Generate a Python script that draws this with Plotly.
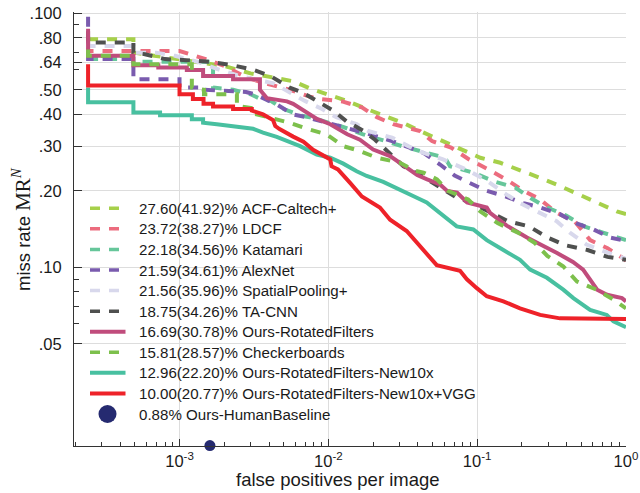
import plotly.graph_objects as go

# ---------------- data (fppi, miss rate) ----------------
acf_fppi = [2.43e-4, 4.9e-4, 4.9e-4, 1.0e-3, 2.0e-3, 3.0e-3, 4.27e-3, 5.82e-3, 7.53e-3, 1.03e-2, 1.33e-2, 1.81e-2,
            2.34e-2, 3.19e-2, 4.13e-2, 5.63e-2, 7.3e-2, 0.105, 0.143, 0.194, 0.265, 0.36, 0.491, 0.637, 0.867, 1.0]
acf_mr = [0.79, 0.79, 0.70, 0.66, 0.62, 0.58, 0.559, 0.54, 0.506, 0.476, 0.452, 0.42,
          0.395, 0.37, 0.344, 0.318, 0.296, 0.27, 0.258, 0.2415, 0.225, 0.209, 0.193, 0.179, 0.166, 0.162]

ldcf_fppi = [2.43e-4, 2.43e-4, 1.0e-3, 1.5e-3, 2.0e-3, 2.8e-3, 3.64e-3, 5.5e-3, 7.5e-3, 9.07e-3, 1.24e-2, 1.68e-2,
             2.12e-2, 2.73e-2, 4.13e-2, 4.97e-2, 6.68e-2, 8.83e-2, 0.117, 0.156, 0.206, 0.265, 0.342, 0.455,
             0.574, 0.752, 0.97, 1.0]
ldcf_mr = [0.74, 0.71, 0.71, 0.66, 0.62, 0.56, 0.533, 0.50, 0.47, 0.459, 0.45, 0.426,
           0.39, 0.366, 0.344, 0.314, 0.296, 0.266, 0.244, 0.222, 0.2, 0.185, 0.164, 0.151,
           0.128, 0.119, 0.108, 0.106]

kat_fppi = [2.43e-4, 4.9e-4, 4.9e-4, 1.68e-3, 1.68e-3, 2.29e-3, 3.0e-3, 3.5e-3, 4.1e-3, 5.0e-3, 6.6e-3, 7.5e-3,
            1.24e-2, 1.71e-2, 3.13e-2, 6.08e-2, 6.57e-2, 9.42e-2, 0.13, 0.18, 0.23, 0.296, 0.396, 0.523, 0.7, 1.0]
kat_mr = [0.66, 0.66, 0.645, 0.645, 0.51, 0.50, 0.48, 0.46, 0.452, 0.42, 0.395, 0.39,
          0.358, 0.334, 0.30, 0.27, 0.25, 0.236, 0.218, 0.206, 0.187, 0.172, 0.16, 0.145, 0.137, 0.128]

alex_fppi = [2.43e-4, 2.43e-4, 4.9e-4, 4.9e-4, 1.0e-3, 1.0e-3, 1.44e-3, 1.44e-3, 2.8e-3, 3.2e-3, 4.49e-3, 5.8e-3,
             7.13e-3, 1.08e-2, 1.44e-2, 1.9e-2, 2.68e-2, 4.36e-2, 5.63e-2, 7.05e-2, 8.9e-2, 0.116, 0.156, 0.205,
             0.267, 0.36, 0.466, 0.605, 0.782, 1.0]
alex_mr = [0.97, 0.66, 0.66, 0.55, 0.55, 0.51, 0.51, 0.50, 0.49, 0.48, 0.438, 0.40,
           0.39, 0.366, 0.35, 0.334, 0.314, 0.282, 0.254, 0.23, 0.215, 0.2, 0.19, 0.179,
           0.172, 0.162, 0.149, 0.141, 0.131, 0.127]

sp_fppi = [2.43e-4, 2.43e-4, 4.9e-4, 4.9e-4, 6.95e-4, 9.33e-4, 1.37e-3, 1.84e-3, 2.51e-3, 4.28e-3, 6.96e-3, 9.07e-3,
           1.13e-2, 1.55e-2, 1.85e-2, 2.68e-2, 3.44e-2, 4.36e-2, 5.9e-2, 8.7e-2, 0.118, 0.15, 0.194, 0.265,
           0.342, 0.42, 0.543, 0.7, 1.0]
sp_mr = [0.76, 0.743, 0.743, 0.70, 0.70, 0.68, 0.64, 0.60, 0.567, 0.53, 0.452, 0.42,
         0.39, 0.366, 0.344, 0.324, 0.30, 0.282, 0.266, 0.241, 0.218, 0.197, 0.179, 0.163,
         0.152, 0.137, 0.123, 0.116, 0.108]

ta_fppi = [2.43e-4, 2.43e-4, 4.9e-4, 4.9e-4, 5.86e-4, 8.0e-4, 1.11e-3, 1.58e-3, 2.25e-3, 3.1e-3, 4.06e-3, 5.0e-3,
           5.5e-3, 6.6e-3, 8.34e-3, 1.08e-2, 1.32e-2, 1.73e-2, 2.06e-2, 2.6e-2, 3.2e-2, 4.13e-2, 7.1e-2, 9.2e-2,
           0.161, 0.223, 0.297, 0.396, 0.552, 0.752, 1.0]
ta_mr = [0.85, 0.767, 0.767, 0.70, 0.69, 0.66, 0.654, 0.645, 0.625, 0.60, 0.567, 0.53,
         0.51, 0.49, 0.452, 0.414, 0.376, 0.344, 0.318, 0.28, 0.25, 0.231, 0.19, 0.179,
         0.152, 0.145, 0.131, 0.122, 0.117, 0.11, 0.107]

rf_fppi = [2.43e-4, 2.43e-4, 4.9e-4, 4.9e-4, 7.2e-4, 7.2e-4, 1.12e-3, 1.12e-3, 1.44e-3, 1.44e-3, 2.29e-3, 2.29e-3,
           3.47e-3, 3.47e-3, 3.87e-3, 5.27e-3, 5.8e-3, 6.76e-3, 8.39e-3, 1.03e-2, 1.34e-2, 1.63e-2, 2.0e-2,
           2.6e-2, 3.38e-2, 3.95e-2, 4.61e-2, 5.63e-2, 6.29e-2, 7.33e-2, 8.55e-2, 0.116, 0.122, 0.158, 0.216,
           0.277, 0.344, 0.44, 0.515, 0.64, 0.746, 0.94, 1.0]
rf_mr = [0.87, 0.68, 0.68, 0.625, 0.625, 0.612, 0.612, 0.598, 0.598, 0.567, 0.567, 0.55,
         0.55, 0.50, 0.463, 0.45, 0.44, 0.414, 0.384, 0.366, 0.334, 0.318, 0.291,
         0.274, 0.245, 0.231, 0.222, 0.212, 0.2, 0.197, 0.18, 0.172, 0.164, 0.146, 0.131,
         0.122, 0.114, 0.105, 0.098, 0.0817, 0.078, 0.0757, 0.0735]

chk_fppi = [2.43e-4, 2.43e-4, 4.9e-4, 4.9e-4, 1.21e-3, 1.21e-3, 1.46e-3, 1.46e-3, 2.43e-3, 2.43e-3, 3.31e-3, 3.31e-3,
            5.56e-3, 7.3e-3, 9.72e-3, 1.26e-2, 1.63e-2, 2.12e-2, 3.03e-2, 3.83e-2, 4.36e-2, 5.37e-2, 6.37e-2,
            8.7e-2, 0.105, 0.138, 0.188, 0.243, 0.296, 0.378, 0.469, 0.634, 0.826, 1.0]
chk_mr = [0.72, 0.68, 0.68, 0.63, 0.63, 0.51, 0.50, 0.48, 0.48, 0.432, 0.42, 0.40,
          0.37, 0.35, 0.334, 0.30, 0.287, 0.27, 0.258, 0.24, 0.236, 0.222, 0.2,
          0.185, 0.166, 0.149, 0.137, 0.125, 0.111, 0.101, 0.088, 0.0817, 0.0746, 0.069]

n10_fppi = [2.43e-4, 2.43e-4, 4.9e-4, 4.9e-4, 7.4e-4, 7.4e-4, 1.21e-3, 1.21e-3, 1.44e-3, 1.44e-3, 1.78e-3, 2.29e-3,
            3.12e-3, 3.64e-3, 4.5e-3, 6.46e-3, 8.36e-3, 1.03e-2, 1.26e-2, 1.55e-2, 1.81e-2, 2.34e-2, 3.19e-2,
            3.93e-2, 4.58e-2, 5.63e-2, 7.29e-2, 9.42e-2, 0.116, 0.15, 0.194, 0.227, 0.294, 0.379, 0.443,
            0.574, 0.743, 0.823, 1.0]
n10_mr = [0.51, 0.447, 0.447, 0.407, 0.407, 0.397, 0.397, 0.383, 0.383, 0.371, 0.366, 0.359,
          0.351, 0.339, 0.326, 0.30, 0.278, 0.27, 0.256, 0.239, 0.229, 0.217, 0.2,
          0.188, 0.18, 0.164, 0.145, 0.141, 0.128, 0.117, 0.107, 0.098, 0.091, 0.0817, 0.0757,
          0.068, 0.065, 0.0613, 0.0582]

vgg_fppi = [2.43e-4, 2.43e-4, 1.0e-3, 1.0e-3, 1.23e-3, 1.23e-3, 1.45e-3, 1.45e-3, 1.68e-3, 1.68e-3, 2.29e-3, 2.29e-3,
            3.06e-3, 3.06e-3, 3.64e-3, 3.93e-3, 4.25e-3, 4.4e-3, 4.7e-3, 5.8e-3, 6.8e-3, 7.9e-3, 9.1e-3,
            1.03e-2, 1.05e-2, 1.16e-2, 1.40e-2, 1.68e-2, 2.22e-2, 2.6e-2, 3.36e-2, 3.93e-2, 4.82e-2, 5.35e-2,
            7.67e-2, 8.5e-2, 9.9e-2, 0.116, 0.15, 0.194, 0.265, 0.36, 1.0]
vgg_mr = [0.63, 0.52, 0.52, 0.48, 0.48, 0.46, 0.46, 0.44, 0.44, 0.43, 0.43, 0.42,
          0.42, 0.414, 0.40, 0.39, 0.38, 0.36, 0.35, 0.327, 0.312, 0.29, 0.278,
          0.266, 0.25, 0.243, 0.215, 0.19, 0.172, 0.154, 0.139, 0.125, 0.11, 0.102,
          0.097, 0.09, 0.083, 0.077, 0.0735, 0.069, 0.065, 0.063, 0.0627]

human_fppi = [1.6e-3]
human_mr_shown = [0.0199]   # drawn on the bottom axis (0.88% lies below the plotted range)

names = ["27.60(41.92)% ACF-Caltech+", "23.72(38.27)% LDCF", "22.18(34.56)% Katamari",
         "21.59(34.61)% AlexNet", "21.56(35.96)% SpatialPooling+", "18.75(34.26)% TA-CNN",
         "16.69(30.78)% Ours-RotatedFilters", "15.81(28.57)% Checkerboards",
         "12.96(22.20)% Ours-RotatedFilters-New10x", "10.00(20.77)% Ours-RotatedFilters-New10x+VGG"]
human_name = "0.88% Ours-HumanBaseline"

y_tickvals = [0.05, 0.1, 0.2, 0.3, 0.4, 0.5, 0.64, 0.8, 1.0]
y_ticktext = [".05", ".10", ".20", ".30", ".40", ".50", ".64", ".80", ".100"]
y_minor = [0.06, 0.07, 0.08, 0.09, 0.6, 0.7, 0.9]
x_tickvals = [1e-3, 1e-2, 1e-1, 1]
x_ticktext = ["10<sup>-3</sup>", "10<sup>-2</sup>", "10<sup>-1</sup>", "10<sup>0</sup>"]
x_minor = [m * 10 ** e for e in (-4, -3, -2, -1) for m in range(2, 10)]

# ---------------- styling ----------------
DASH = "10px,9px"
series = [
    (acf_fppi, acf_mr, "#a6d04a", DASH),
    (ldcf_fppi, ldcf_mr, "#ec6c7e", DASH),
    (kat_fppi, kat_mr, "#66c69a", DASH),
    (alex_fppi, alex_mr, "#7a5bae", DASH),
    (sp_fppi, sp_mr, "#d8d8ec", DASH),
    (ta_fppi, ta_mr, "#4f504f", DASH),
    (rf_fppi, rf_mr, "#c04c7c", "solid"),
    (chk_fppi, chk_mr, "#7dc04c", DASH),
    (n10_fppi, n10_mr, "#48c0a0", "solid"),
    (vgg_fppi, vgg_mr, "#ee2229", "solid"),
]
HUMAN_COLOR = "#252a70"

W, H = 640, 493
ML, MR, MT, MB = 74, 14, 12, 47
PW, PH = W - ML - MR, H - MT - MB


def px(xp):   # page pixel -> paper x
    return (xp - ML) / PW


def py(yp):   # page pixel -> paper y
    return (H - MB - yp) / PH


FONT = "Liberation Sans, Arial, sans-serif"
TXT = "#1a1a1a"
fig = go.Figure()
for (xs, ys, col, dash), nm in zip(series, names):
    fig.add_trace(go.Scatter(x=xs, y=ys, mode="lines", name=nm, showlegend=False,
                             line=dict(color=col, width=4, dash=dash)))

fig.add_trace(go.Scatter(x=human_fppi, y=human_mr_shown, mode="markers", name=human_name,
                         showlegend=False, cliponaxis=False,
                         marker=dict(color=HUMAN_COLOR, size=11, line=dict(width=0))))

# white patch that hides the gridlines behind the legend (drawn below the traces)
mask = [(ML + 1, 196), (398, 196), (398, 300), (445, 300), (445, 428), (ML + 1, 428)]
fig.add_shape(type="path", xref="paper", yref="paper", layer="between",
              path="M " + " L ".join(f"{px(a):.4f},{py(b):.4f}" for a, b in mask) + " Z",
              fillcolor="white", line=dict(width=0))

# legend drawn as swatches + text
row0, step = 208.3, 20.57
for i, ((xs, ys, col, dash), nm) in enumerate(zip(series, names)):
    yc = row0 + i * step
    x_end = 119.5 if dash != "solid" else 125.5
    fig.add_shape(type="line", xref="paper", yref="paper", layer="above",
                  x0=px(90), x1=px(x_end), y0=py(yc), y1=py(yc),
                  line=dict(color=col, width=4 if dash == "solid" else 3.5, dash=dash))
    fig.add_annotation(text=nm, xref="paper", yref="paper", x=px(137), y=py(yc),
                       xanchor="left", yanchor="middle", showarrow=False,
                       font=dict(size=15.1, family=FONT, color=TXT))
yc = row0 + 10 * step
fig.add_shape(type="circle", xref="paper", yref="paper", xsizemode="pixel", ysizemode="pixel",
              xanchor=px(107.5), yanchor=py(yc), x0=-9, x1=9, y0=-9, y1=9, layer="above",
              fillcolor=HUMAN_COLOR, line=dict(width=0))
fig.add_annotation(text=human_name, xref="paper", yref="paper", x=px(137), y=py(yc),
                   xanchor="left", yanchor="middle", showarrow=False,
                   font=dict(size=15.1, family=FONT, color=TXT))

fig.update_layout(
    width=W, height=H,
    margin=dict(l=ML, r=MR, t=MT, b=MB, autoexpand=False),
    paper_bgcolor="white", plot_bgcolor="white",
    font=dict(family=FONT, color=TXT),
    showlegend=False,
)
fig.update_xaxes(type="log", range=[-3.709, 0.0], automargin=False,
                 tickvals=x_tickvals, ticktext=x_ticktext,
                 tickfont=dict(size=16.5, family=FONT, color=TXT),
                 ticks="inside", ticklen=7, tickwidth=1, tickcolor="#333",
                 showline=True, linecolor="#333", linewidth=1, mirror=False,
                 showgrid=True, gridcolor="#dddddd", gridwidth=1, zeroline=False,
                 minor=dict(tickmode="array", tickvals=x_minor, ticks="inside", ticklen=4,
                            tickcolor="#333", showgrid=False))
fig.update_yaxes(type="log", range=[-1.703, 0.005], automargin=False,
                 tickvals=y_tickvals, ticktext=y_ticktext,
                 tickfont=dict(size=16.5, family=FONT, color=TXT),
                 ticks="inside", ticklen=8, tickwidth=1, tickcolor="#333",
                 ticklabelstandoff=8,
                 showline=True, linecolor="#333", linewidth=1, mirror=False,
                 showgrid=True, gridcolor="#dddddd", gridwidth=1, zeroline=False,
                 minor=dict(tickmode="array", tickvals=y_minor, ticks="inside", ticklen=5,
                            tickcolor="#333", showgrid=False))

fig.add_annotation(text="false positives per image", xref="paper", yref="paper",
                   x=px(338), y=py(479), xanchor="center", yanchor="middle", showarrow=False,
                   font=dict(size=18.5, family=FONT, color=TXT))
fig.add_annotation(text="miss rate <span style='font-family:Liberation Serif, Times New Roman, serif; font-size:21px'>MR<sup><i>N</i></sup></span>",
                   xref="paper", yref="paper", x=px(21), y=py(229), xanchor="center", yanchor="middle",
                   textangle=-90, showarrow=False,
                   font=dict(size=18.5, family=FONT, color=TXT))

fig.write_html("out.html")
